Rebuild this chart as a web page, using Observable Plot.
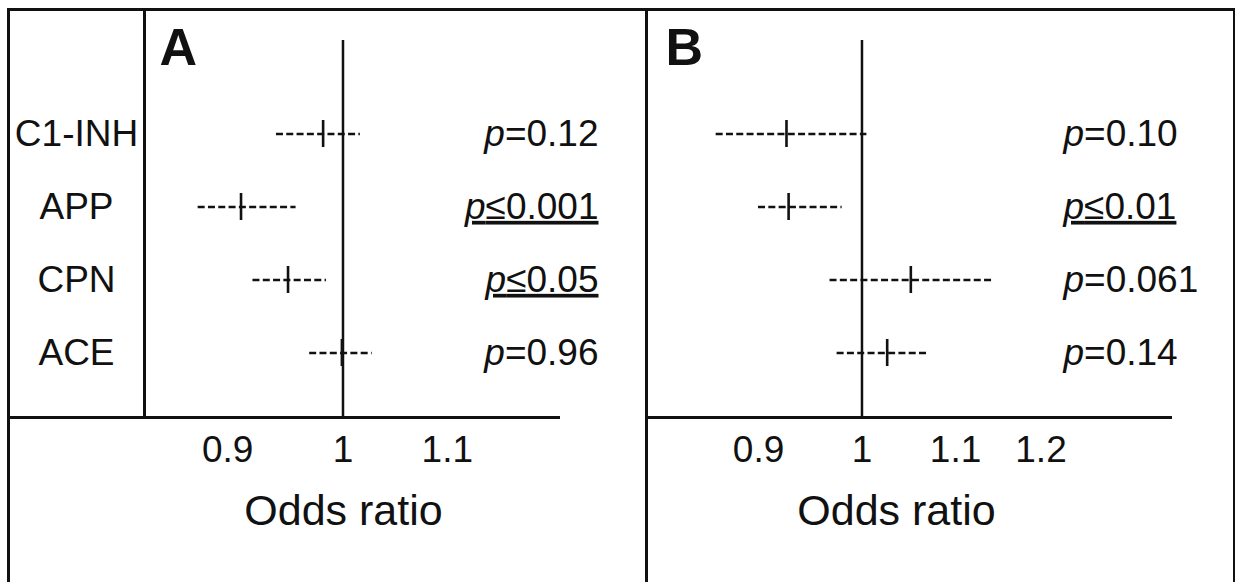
<!DOCTYPE html>
<html>
<head>
<meta charset="utf-8">
<script src="https://cdn.jsdelivr.net/npm/d3@7"></script>
<script src="https://cdn.jsdelivr.net/npm/@observablehq/plot@0.6"></script>
<style>
  html, body { margin: 0; padding: 0; background: #fff; }
  #wrap { position: relative; width: 1240px; height: 582px; overflow: hidden; background: #fff; font-family: "Liberation Sans", Arial, sans-serif; }
  .panel { position: absolute; top: 0; }
  .line { position: absolute; background: #111; }
</style>
</head>
<body>
<div id="wrap">
  <div class="line" style="left:7px; top:8px; width:1228px; height:2.5px;"></div>
  <div class="line" style="left:7px; top:8px; width:2.5px; height:600px;"></div>
  <div class="line" style="left:1232.5px; top:8px; width:2.5px; height:600px;"></div>
  <div class="line" style="left:644.5px; top:8px; width:3px; height:600px;"></div>
  <div class="line" style="left:143px; top:8px; width:2.5px; height:410px;"></div>
  <div id="panelA" class="panel" style="left:0px;"></div>
  <div id="panelB" class="panel" style="left:646px;"></div>
</div>
<script>
// ---- data ----
const categories = ["C1-INH", "APP", "CPN", "ACE"];

const orA = [0.982, 0.911, 0.951, 0.999];
const loA = [0.941, 0.876, 0.921, 0.970];
const hiA = [1.016, 0.958, 0.985, 1.027];
const pA  = ["p=0.12", "p≤0.001", "p≤0.05", "p=0.96"];

const orB = [0.926, 0.928, 1.051, 1.026];
const loB = [0.862, 0.900, 0.968, 0.975];
const hiB = [1.005, 0.980, 1.143, 1.071];
const pB  = ["p=0.10", "p≤0.01", "p=0.061", "p=0.14"];

const ticksA = [0.9, 1, 1.1];
const ticksB = [0.9, 1, 1.1, 1.2];
const axisTitle = "Odds ratio";

const rows = (or, lo, hi, p) => categories.map((c, i) => ({cat: c, or: or[i], lo: lo[i], hi: hi[i], p: p[i]}));
const dataA = rows(orA, loA, hiA, pA);
const dataB = rows(orB, loB, hiB, pB);

const INK = "#111";
const FONT = "Liberation Sans, Arial, sans-serif";

function panel({data, letter, ticks, xDomain, xRange, width, marginLeft, marginRight, showLabels, pAnchor, pDx, pTextAnchor, letterDx, titleDx}) {
  const marks = [
    Plot.ruleX([1], {stroke: INK, strokeWidth: 2.5}),
    Plot.frame({anchor: "bottom", stroke: INK, strokeWidth: 3}),
    Plot.ruleY(data, {y: "cat", x1: "lo", x2: "hi", stroke: INK, strokeWidth: 2.6, strokeDasharray: "7,3.3"}),
    Plot.tickX(data, {x: "or", y: "cat", stroke: INK, strokeWidth: 2.6, insetTop: 23, insetBottom: 23}),
    Plot.text(data, {y: "cat", text: "p", frameAnchor: pAnchor, dx: pDx, textAnchor: pTextAnchor, lineAnchor: "middle", fontSize: 37, fill: INK}),
    Plot.text([letter], {frameAnchor: "top-left", dx: letterDx, dy: 8, lineAnchor: "middle", textAnchor: "start", fontSize: 52, fontWeight: "bold", fill: INK}),
    // large tick count so the log scale's tick formatter keeps every listed tick
    Plot.axisX(ticks, {ticks: 100, tickSize: 0, tickPadding: 18, tickFormat: d => String(d), fontSize: 37, fill: INK, label: null}),
    Plot.text([axisTitle], {frameAnchor: "bottom", dx: titleDx, dy: 94, lineAnchor: "middle", fontSize: 43, fill: INK})
  ];
  if (showLabels) {
    marks.push(Plot.text(data, {y: "cat", text: "cat", frameAnchor: "left", dx: 68, textAnchor: "middle", lineAnchor: "middle", fontSize: 37, fill: INK}));
  }
  const svg = Plot.plot({
    width,
    height: 582,
    marginLeft,
    marginRight,
    marginTop: 40,
    marginBottom: 165,
    style: {fontFamily: FONT, background: "transparent", color: INK, overflow: "visible"},
    x: {type: "log", domain: xDomain, range: xRange, axis: null},
    y: {type: "band", domain: categories, range: [97, 389], padding: 0, axis: null},
    marks
  });
  // italic "p" and underline for significant values
  svg.querySelectorAll("text").forEach(t => {
    const s = t.textContent;
    if (/^p[=≤]/.test(s) && t.children.length === 0) {
      t.textContent = "";
      const a = document.createElementNS("http://www.w3.org/2000/svg", "tspan");
      a.setAttribute("font-style", "italic");
      a.textContent = "p";
      const b = document.createElementNS("http://www.w3.org/2000/svg", "tspan");
      b.textContent = s.slice(1);
      t.appendChild(a); t.appendChild(b);
      if (s.includes("≤")) t.setAttribute("text-decoration", "underline");
    }
  });
  return svg;
}

document.getElementById("panelA").appendChild(panel({
  data: dataA, letter: "A", ticks: ticksA,
  xDomain: [0.85, 1.15], xRange: [164.7, 495.4],
  width: 646, marginLeft: 8, marginRight: 88, showLabels: true,
  pAnchor: "right", pDx: 40, pTextAnchor: "end", letterDx: 151, titleDx: 60
}));

document.getElementById("panelB").appendChild(panel({
  data: dataB, letter: "B", ticks: ticksB,
  xDomain: [0.85, 1.25], xRange: [55.9, 434.6],
  width: 594, marginLeft: 0, marginRight: 70, showLabels: false,
  pAnchor: "left", pDx: 417, pTextAnchor: "start", letterDx: 19, titleDx: -12
}));
</script>
</body>
</html>
